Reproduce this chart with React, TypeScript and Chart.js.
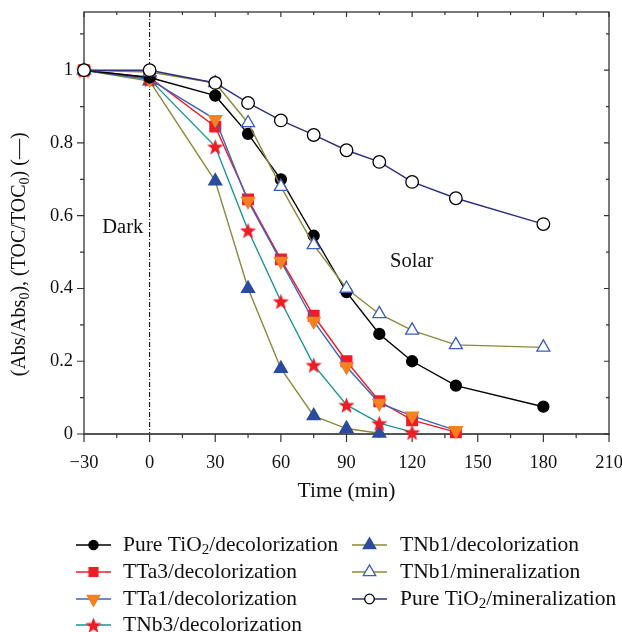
import React, { useEffect, useRef } from 'react';
import { Chart, registerables } from 'chart.js';
import { drawPoint } from 'chart.js/helpers';
Chart.register(...registerables);

const times = [-30, 0, 30, 45, 60, 75, 90, 105, 120, 140, 180];
const pureTiO2Decol = [1, 0.98, 0.93, 0.825, 0.7, 0.545, 0.39, 0.275, 0.2, 0.133, 0.075];
const tta3Decol = [1, 0.98, 0.845, 0.645, 0.48, 0.325, 0.2, 0.09, 0.038, 0.005];
const tta1Decol = [1, 0.975, 0.865, 0.64, 0.475, 0.31, 0.185, 0.085, 0.05, 0.01];
const tnb3Decol = [1, 0.975, 0.79, 0.56, 0.365, 0.19, 0.08, 0.03, 0.005];
const tnb1Decol = [1, 0.97, 0.695, 0.4, 0.18, 0.05, 0.015, 0.002];
const tnb1Mineral = [1, 0.995, 0.965, 0.855, 0.68, 0.52, 0.4, 0.33, 0.285, 0.245, 0.238];
const pureTiO2Mineral = [1, 1.0, 0.965, 0.91, 0.862, 0.822, 0.78, 0.748, 0.693, 0.648, 0.577];

const xTicks = [-30, 0, 30, 60, 90, 120, 150, 180, 210];
const yTicks = [0, 0.2, 0.4, 0.6, 0.8, 1];
const xTitle = 'Time (min)';
const yTitle = '(Abs/Abs₀), (TOC/TOC₀) (—)';
const labels = [
  'Pure TiO₂/decolorization',
  'TTa3/decolorization',
  'TTa1/decolorization',
  'TNb3/decolorization',
  'TNb1/decolorization',
  'TNb1/mineralization',
  'Pure TiO₂/mineralization',
];

const FONT = '"Liberation Serif", "Times New Roman", serif';
const SUBS: Record<string, string> = { '₀': '0', '₁': '1', '₂': '2', '₃': '3' };

function drawRich(ctx: CanvasRenderingContext2D, text: string, x: number, y: number, size: number) {
  const segs: { t: string; sub: boolean }[] = [];
  for (const ch of text) {
    const sub = ch in SUBS;
    const c = sub ? SUBS[ch] : ch;
    const last = segs[segs.length - 1];
    if (last && last.sub === sub) last.t += c;
    else segs.push({ t: c, sub });
  }
  let cx = x;
  ctx.textBaseline = 'middle';
  ctx.textAlign = 'left';
  for (const s of segs) {
    const fs = s.sub ? size * 0.7 : size;
    ctx.font = `${fs}px ${FONT}`;
    ctx.fillText(s.t, cx, s.sub ? y + size * 0.25 : y);
    cx += ctx.measureText(s.t).width;
  }
  return cx - x;
}
function measureRich(ctx: CanvasRenderingContext2D, text: string, size: number) {
  let w = 0;
  for (const ch of text) {
    const sub = ch in SUBS;
    ctx.font = `${sub ? size * 0.7 : size}px ${FONT}`;
    w += ctx.measureText(sub ? SUBS[ch] : ch).width;
  }
  return w;
}

function makeStar(color: string, R: number) {
  const c = document.createElement('canvas');
  const s = Math.ceil(R * 2 + 2);
  c.width = s;
  c.height = s;
  const g = c.getContext('2d')!;
  g.fillStyle = color;
  g.beginPath();
  const r = R * 0.42;
  for (let i = 0; i < 10; i++) {
    const a = -Math.PI / 2 + (i * Math.PI) / 5;
    const rr = i % 2 === 0 ? R : r;
    const px = s / 2 + rr * Math.cos(a);
    const py = s / 2 + 1 + rr * Math.sin(a);
    if (i === 0) g.moveTo(px, py);
    else g.lineTo(px, py);
  }
  g.closePath();
  g.fill();
  return c;
}

const pts = (vals: number[]) => vals.map((v, i) => ({ x: times[i], y: v }));

const framePlugin = {
  id: 'framePlugin',
  beforeDatasetsDraw(chart: any) {
    const { ctx, chartArea: a, scales } = chart;
    const xs = scales.x, ys = scales.y;
    ctx.save();
    const x0 = xs.getPixelForValue(0);
    ctx.strokeStyle = '#000';
    ctx.lineWidth = 1;
    ctx.setLineDash([5, 2, 1, 2]);
    ctx.beginPath();
    ctx.moveTo(x0, a.top);
    ctx.lineTo(x0, a.bottom);
    ctx.stroke();
    ctx.setLineDash([]);
    ctx.strokeStyle = '#333';
    ctx.lineWidth = 1.3;
    ctx.strokeRect(a.left, a.top, a.right - a.left, a.bottom - a.top);
    ctx.strokeStyle = '#555';
    ctx.lineWidth = 2;
    ctx.beginPath();
    ctx.moveTo(a.left - 1, a.bottom);
    ctx.lineTo(a.right + 1, a.bottom);
    ctx.stroke();
    ctx.strokeStyle = '#333';
    ctx.lineWidth = 1.2;
    ctx.beginPath();
    for (let t = -30; t <= 210; t += 15) {
      const px = xs.getPixelForValue(t);
      const major = t % 30 === 0;
      ctx.moveTo(px, a.bottom);
      ctx.lineTo(px, a.bottom + (major ? 8 : 4));
      ctx.moveTo(px, a.top);
      ctx.lineTo(px, a.top + (major ? 5 : 3));
    }
    for (let k = 0; k <= 11; k++) {
      const py = ys.getPixelForValue(k / 10);
      const major = k % 2 === 0;
      ctx.moveTo(a.left, py);
      ctx.lineTo(a.left - (major ? 7 : 4), py);
      ctx.moveTo(a.right, py);
      ctx.lineTo(a.right - (major ? 5 : 3), py);
    }
    ctx.stroke();
    ctx.fillStyle = '#111';
    ctx.font = `18.5px ${FONT}`;
    ctx.textBaseline = 'middle';
    ctx.textAlign = 'center';
    for (const t of xTicks) {
      ctx.fillText(String(t).replace('-', '−'), xs.getPixelForValue(t), 463);
    }
    ctx.textAlign = 'right';
    for (const v of yTicks) {
      ctx.fillText(String(v), 73, ys.getPixelForValue(v));
    }
    ctx.restore();
  },
  afterDraw(chart: any) {
    const { ctx, chartArea: a, scales } = chart;
    const xs = scales.x, ys = scales.y;
    ctx.save();
    ctx.fillStyle = '#111';
    ctx.font = `20.5px ${FONT}`;
    ctx.textAlign = 'center';
    ctx.textBaseline = 'middle';
    ctx.fillText('Dark', xs.getPixelForValue(-12.3), ys.getPixelForValue(0.566));
    ctx.fillText('Solar', xs.getPixelForValue(119.8), ys.getPixelForValue(0.473));
    ctx.font = `21.5px ${FONT}`;
    ctx.fillText(xTitle, (a.left + a.right) / 2, 491);
    const ts = 20;
    const w = measureRich(ctx, yTitle, ts);
    ctx.translate(20, 254);
    ctx.rotate(-Math.PI / 2);
    drawRich(ctx, yTitle, -w / 2, 0, ts);
    ctx.setTransform(1, 0, 0, 1, 0, 0);
    const rows = [545, 572, 599, 625];
    const cols = [{ lx: 76, tx: 123 }, { lx: 352, tx: 400 }];
    const legR = [4.6, 6.2, 7.2, 6.5, 7.2, 7.2, 4.8];
    chart.data.datasets.forEach((ds: any, i: number) => {
      const col = cols[i < 4 ? 0 : 1];
      const y = rows[i < 4 ? i : i - 4];
      ctx.strokeStyle = ds.borderColor;
      ctx.lineWidth = 1.6;
      ctx.beginPath();
      ctx.moveTo(col.lx, y);
      ctx.lineTo(col.lx + 35, y);
      ctx.stroke();
      ctx.fillStyle = ds.pointBackgroundColor;
      ctx.strokeStyle = ds.pointBorderColor;
      ctx.lineWidth = ds.pointBorderWidth;
      drawPoint(ctx, {
        pointStyle: ds.pointStyle,
        rotation: ds.pointRotation || 0,
        radius: legR[i],
        borderWidth: ds.pointBorderWidth,
      } as any, col.lx + 17.5, y);
      ctx.fillStyle = '#111';
      drawRich(ctx, ds.label, col.tx, y, 21.5);
    });
    ctx.restore();
  },
};

export default function App() {
  const ref = useRef<HTMLCanvasElement>(null);
  useEffect(() => {
    document.body.style.margin = '0';
    const star = makeStar('#ee1c25', 8.5);
    const base = { showLine: true, borderWidth: 1.4, clip: false as any, pointBorderWidth: 1.3 };
    const chart = new Chart(ref.current!, {
      type: 'scatter',
      data: {
        datasets: [
          { ...base, label: labels[0], data: pts(pureTiO2Decol), borderColor: '#000', pointStyle: 'circle', pointRadius: 5.5, pointBackgroundColor: '#000', pointBorderColor: '#000', order: 3 },
          { ...base, label: labels[1], data: pts(tta3Decol), borderColor: '#ee1c25', pointStyle: 'rect', pointRadius: 7.5, pointBackgroundColor: '#ee1c25', pointBorderColor: '#ee1c25', order: 5 },
          { ...base, label: labels[2], data: pts(tta1Decol), borderColor: '#4063b8', pointStyle: 'triangle', pointRotation: 180, pointRadius: 7.5, pointBackgroundColor: '#f68121', pointBorderColor: '#f68121', order: 4 },
          { ...base, label: labels[3], data: pts(tnb3Decol), borderColor: '#1b9696', pointStyle: star as any, pointRadius: 8, pointBackgroundColor: '#ee1c25', pointBorderColor: '#ee1c25', order: 6 },
          { ...base, label: labels[4], data: pts(tnb1Decol), borderColor: '#8a8a3a', pointStyle: 'triangle', pointRadius: 7.5, pointBackgroundColor: '#2b4c9e', pointBorderColor: '#2b4c9e', order: 7 },
          { ...base, label: labels[5], data: pts(tnb1Mineral), borderColor: '#8a8a3a', pointStyle: 'triangle', pointRadius: 7.5, pointBackgroundColor: '#fff', pointBorderColor: '#3a5fb8', order: 2 },
          { ...base, label: labels[6], data: pts(pureTiO2Mineral), borderColor: '#2e2f7f', pointStyle: 'circle', pointRadius: 6.3, pointBackgroundColor: '#fff', pointBorderColor: '#000', order: 1 },
        ] as any,
      },
      options: {
        responsive: false,
        animation: false,
        devicePixelRatio: 1,
        layout: { padding: { left: 0, top: 12, right: 13, bottom: 0 } },
        plugins: { legend: { display: false }, tooltip: { enabled: false } },
        scales: {
          x: {
            type: 'linear',
            min: -30,
            max: 210,
            afterFit: (s: any) => { s.height = 198; },
            afterBuildTicks: (s: any) => { s.ticks = xTicks.map((v) => ({ value: v })); },
            grid: { display: false, drawTicks: false },
            border: { display: false },
            ticks: { display: false },
          },
          y: {
            type: 'linear',
            min: 0,
            max: 1.16,
            afterFit: (s: any) => { s.width = 84; },
            afterBuildTicks: (s: any) => { s.ticks = yTicks.map((v) => ({ value: v })); },
            grid: { display: false, drawTicks: false },
            border: { display: false },
            ticks: { display: false },
          },
        },
      },
      plugins: [framePlugin],
    });
    return () => chart.destroy();
  }, []);
  return (
    <div style={{ position: 'absolute', left: 0, top: 0, width: 622, height: 632 }}>
      <canvas ref={ref} width={622} height={632} style={{ display: 'block' }} />
    </div>
  );
}
